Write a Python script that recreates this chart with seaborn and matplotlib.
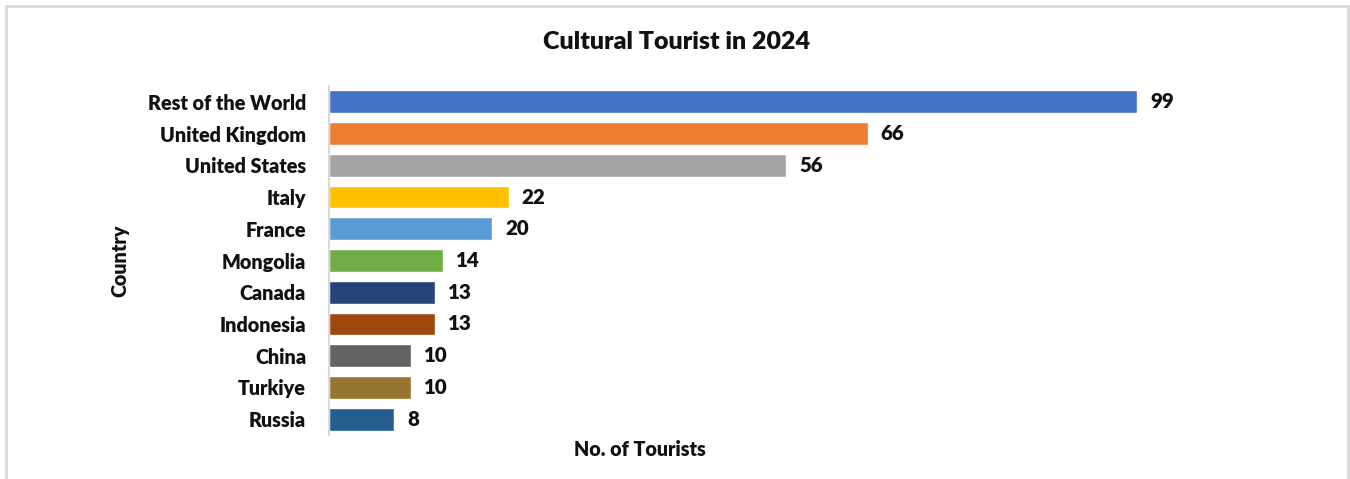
import matplotlib
matplotlib.use("Agg")
import matplotlib.pyplot as plt
import seaborn as sns
import pandas as pd

countries = ["Rest of the World", "United Kingdom", "United States", "Italy", "France",
             "Mongolia", "Canada", "Indonesia", "China", "Turkiye", "Russia"]
tourists = [99, 66, 56, 22, 20, 14, 13, 13, 10, 10, 8]
bar_colors = ["#4472C4", "#ED7D31", "#A5A5A5", "#FFC000", "#5B9BD5", "#70AD47",
              "#264478", "#9E480E", "#636363", "#98752E", "#255E91"]

df = pd.DataFrame({"Country": countries, "Tourists": tourists})

sns.set_theme(style="white")
plt.rcParams["font.family"] = ["Lato", "DejaVu Sans"]

TXT = "#111111"

fig = plt.figure(figsize=(13.5, 4.79), dpi=100)
ax = fig.add_axes([329 / 1350, 1 - 435 / 479, 1001 / 1350, 349 / 479])

sns.barplot(data=df, x="Tourists", y="Country", hue="Country", palette=bar_colors,
            order=countries, hue_order=countries, legend=False, width=0.72,
            saturation=1, ax=ax)

ax.set_xlim(0, 1001 / 8.16)
ax.set_ylim(len(countries) - 0.5, -0.5)

for i, v in enumerate(tourists):
    ax.annotate(str(v), xy=(v, i), xytext=(9.5, 0), textcoords="offset points",
                va="center", ha="left", fontsize=14.8, fontweight="heavy", color=TXT)

for side in ["top", "right", "bottom"]:
    ax.spines[side].set_visible(False)
ax.spines["left"].set_color("#d9d9d9")
ax.spines["left"].set_linewidth(1.5)

ax.set_xticks([])
ax.tick_params(axis="y", length=0, pad=16.5)
for lab in ax.get_yticklabels():
    lab.set_fontsize(14.2)
    lab.set_fontweight("heavy")
    lab.set_color(TXT)

ax.set_xlabel("No. of Tourists", fontsize=14.2, fontweight="heavy", color=TXT)
ax.xaxis.set_label_coords((640 - 329) / 1001, -14 / 349, transform=ax.transAxes)
ax.xaxis.label.set_va("center")
ax.set_ylabel("Country", fontsize=14.2, fontweight="heavy", color=TXT)
ax.yaxis.set_label_coords((120 - 329) / 1001, 0.5, transform=ax.transAxes)
ax.yaxis.label.set_va("center")

fig.text(677 / 1350, 1 - 42 / 479, "Cultural Tourist in 2024", ha="center", va="center",
         fontsize=18, fontweight="heavy", color=TXT)

# light frame around the chart area
frame = plt.Rectangle((6 / 1350, -0.05), 1342 / 1350, 1.05 - 6 / 479,
                      transform=fig.transFigure, fill=False, edgecolor="#d9d9d9",
                      linewidth=2)
fig.add_artist(frame)

fig.savefig("out.png", dpi=100, facecolor="white")
